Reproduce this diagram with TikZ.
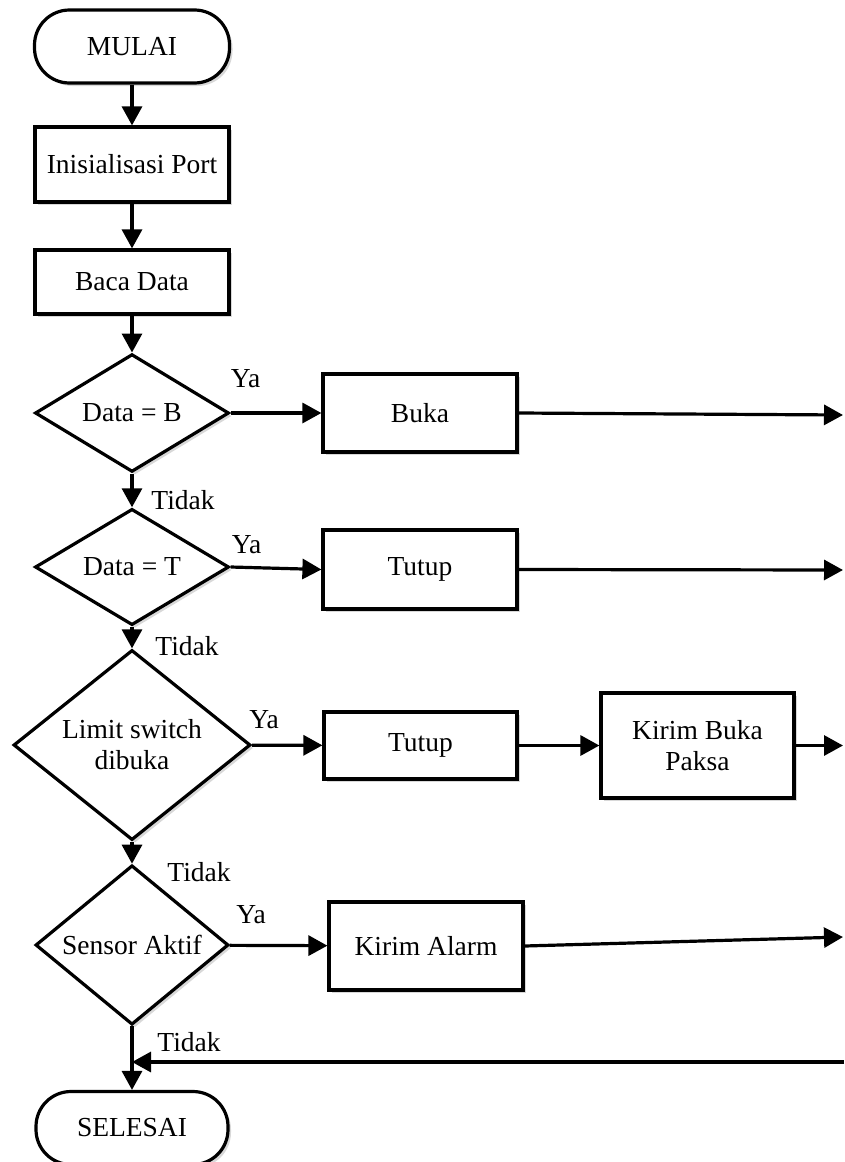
\documentclass[tikz,border=0pt]{standalone}
\usepackage{fontspec}
\setmainfont{Liberation Serif}
\usetikzlibrary{shapes.geometric,arrows.meta,shadows}
\tikzset{
  proc/.style={shape=rectangle, draw, line width=3.2pt, fill=white, align=center, font=\fontsize{27.5}{31}\selectfont, drop shadow={shadow xshift=3pt,shadow yshift=-3pt,fill=black!30,opacity=0.5}},
  term/.style={proc, rounded corners=35pt},
  dec/.style={proc, shape=diamond},
  lbl/.style={font=\fontsize{27.5}{31}\selectfont},
  arr/.style={-{Triangle[length=19pt,width=20pt]}, line width=3.2pt},
}

\begin{document}
\begin{tikzpicture}[inner sep=0pt]
\useasboundingbox (0pt,0pt) rectangle (844pt,-1162pt);
\node (n0) [term, minimum width=195pt, minimum height=73pt, at={(132pt,-46.5pt)}] {MULAI};
\node (n1) [proc, minimum width=194pt, minimum height=75pt, at={(132pt,-164.5pt)}] {Inisialisasi Port};
\node (n2) [proc, minimum width=194pt, minimum height=64pt, at={(132pt,-282pt)}] {Baca Data};
\node (n3) [dec, minimum width=194pt, minimum height=97pt, at={(132pt,-413pt)}] {Data = B};
\node (n4) [proc, minimum width=194pt, minimum height=78pt, at={(420pt,-413pt)}] {Buka};
\node (n5) [dec, minimum width=194pt, minimum height=104pt, at={(132pt,-567pt)}] {Data = T};
\node (n6) [proc, minimum width=194pt, minimum height=79pt, at={(420pt,-569.5pt)}] {Tutup};
\node (n7) [dec, minimum width=237pt, minimum height=160pt, at={(132pt,-745pt)}] {Limit switch\\dibuka};
\node (n8) [proc, minimum width=193pt, minimum height=67pt, at={(420.5pt,-745.5pt)}] {Tutup};
\node (n9) [proc, minimum width=193pt, minimum height=105pt, at={(697.5pt,-745.5pt)}] {Kirim Buka\\Paksa};
\node (n10) [dec, minimum width=193pt, minimum height=144pt, at={(132pt,-945pt)}] {Sensor Aktif};
\node (n11) [proc, minimum width=194pt, minimum height=88pt, at={(426pt,-946pt)}] {Kirim Alarm};
\node (n12) [term, minimum width=192pt, minimum height=73pt, at={(132pt,-1128pt)}] {SELESAI};

\coordinate (c0) at (843pt,-415pt);
\coordinate (c1) at (843pt,-570pt);
\coordinate (c2) at (843pt,-745.5pt);
\coordinate (c3) at (843pt,-937pt);
\coordinate (c4) at (844pt,-1062pt);

\path [arr,draw] (n0)--(n1);
\path [arr,draw] (n1)--(n2);
\path [arr,draw] (n2)--(n3);

\path [arr,draw] (n3)--(n4);
\path (n3.east) ++(15pt,34pt) node[lbl]{Ya};
\path [arr,draw] (n4.east)--(c0);
\path [arr,draw] (n3)--(n5);
\path (n3.south) ++(51pt,-27pt) node[lbl]{Tidak};

\path [arr,draw] (n5.east)--(n6.west);
\path (n5.east) ++(16pt,22pt) node[lbl]{Ya};
\path [arr,draw] (n6.east)--(c1);
\path [arr,draw] (n5)--(n7);
\path (n5.south) ++(55pt,-19pt) node[lbl]{Tidak};

\path [arr,draw] (n7)--(n8);
\path (n7.east) ++(12pt,25pt) node[lbl]{Ya};
\path [arr,draw] (n8)--(n9);
\path [arr,draw] (n9)--(c2);
\path [arr,draw] (n7)--(n10);
\path (n7.south) ++(67pt,-30pt) node[lbl]{Tidak};

\path [arr,draw] (n10)--(n11);
\path (n10.east) ++(21pt,30pt) node[lbl]{Ya};
\path [arr,draw] (n11.east)--(c3);
\path [arr,draw] (n10)--(n12);
\path (n10.south) ++(57pt,-16pt) node[lbl]{Tidak};

\path [arr,draw] (c4)--(c4 -| n10.south);
\end{tikzpicture}
\end{document}
